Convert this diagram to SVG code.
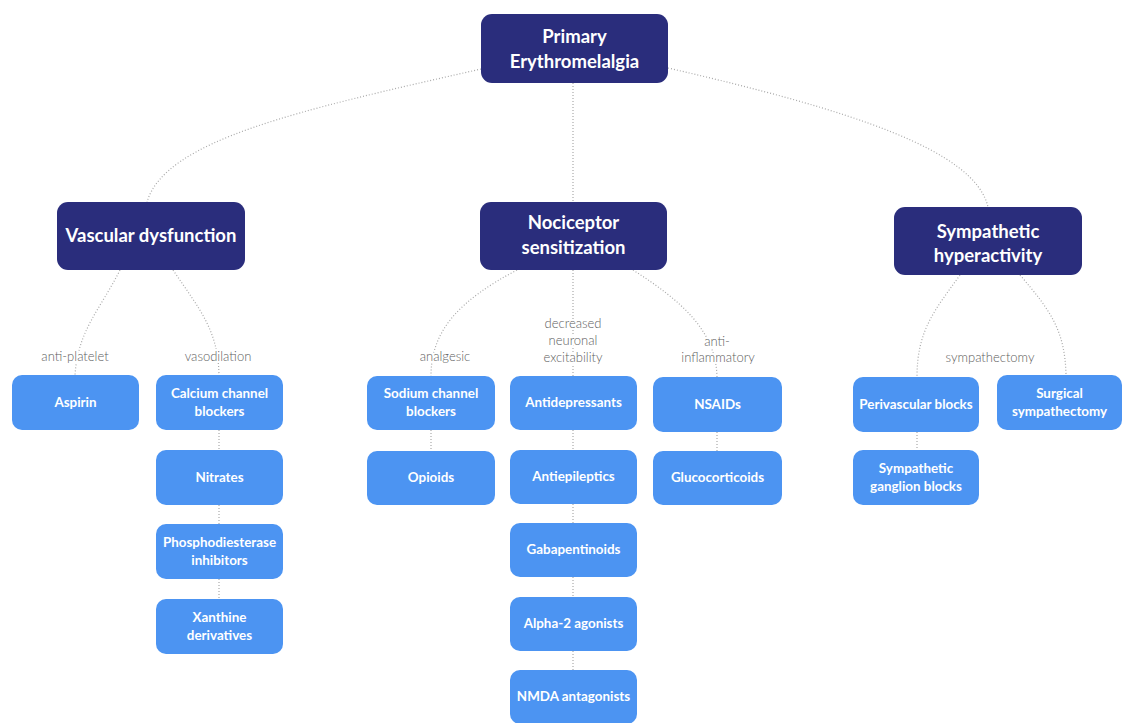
<svg xmlns="http://www.w3.org/2000/svg" width="1123" height="723" viewBox="0 0 1123 723">
<style>
.bg{fill:#ffffff}
.main rect{fill:#2a2d7c}
.main text{fill:#ffffff;font-family:Lato,"Open Sans","Liberation Sans",sans-serif;font-weight:700;font-size:18.5px;text-anchor:middle}
.leaf rect{fill:#4c94f2}
.leaf text{fill:#ffffff;font-family:Lato,"Open Sans","Liberation Sans",sans-serif;font-weight:700;font-size:13.4px;text-anchor:middle}
.conn path{fill:none;stroke:#a9a9a9;stroke-width:1.2;stroke-dasharray:1 2}
.lbl{fill:#5e5e5e;font-family:Lato,"Open Sans","Liberation Sans",sans-serif;font-weight:300;font-size:13px;text-anchor:middle;stroke:#ffffff;stroke-width:4;paint-order:stroke}
</style>
<rect class="bg" x="0" y="0" width="1123" height="723"/>
<g id="connectors" class="conn">
<path d="M481,69 C300,110 165,140 147,202"/>
<path d="M573,83 L573,202"/>
<path d="M668,68 C850,110 975,150 988,207"/>
<path d="M120,270 C100,310 78,330 75,375"/>
<path d="M173,270 C200,310 218,330 219,375"/>
<path d="M219,430 L219,450 M219,505 L219,524 M219,579 L219,599"/>
<path d="M517,270 C460,300 431,330 431,376"/>
<path d="M573,270 L573,376"/>
<path d="M633,270 C680,300 716,330 717,377"/>
<path d="M431,430 L431,451"/>
<path d="M573,430 L573,450 M573,504 L573,523 M573,577 L573,597 M573,651 L573,670"/>
<path d="M717,432 L717,451"/>
<path d="M960,275 C935,310 917,330 917,377"/>
<path d="M1020,275 C1050,310 1065,330 1066,375"/>
<path d="M917,432 L917,450"/>
</g>
<g id="labels">
<text class="lbl" x="75" y="361">anti-platelet</text>
<text class="lbl" x="218" y="361">vasodilation</text>
<text class="lbl" x="445" y="361">analgesic</text>
<text class="lbl" x="573" y="328">decreased</text>
<text class="lbl" x="573" y="345">neuronal</text>
<text class="lbl" x="573" y="362">excitability</text>
<text class="lbl" x="717" y="346">anti-</text>
<text class="lbl" x="718" y="362">inflammatory</text>
<text class="lbl" x="990" y="362">sympathectomy</text>
</g>
<g id="root" class="main"><rect x="481" y="14" width="187" height="69" rx="11"/><text x="574.5" y="43">Primary</text><text x="574.5" y="68">Erythromelalgia</text></g>
<g id="vascular" class="main"><rect x="57" y="202" width="188" height="68" rx="11"/><text x="151" y="242">Vascular dysfunction</text></g>
<g id="nociceptor" class="main"><rect x="480" y="202" width="187" height="68" rx="11"/><text x="573.5" y="229">Nociceptor</text><text x="573.5" y="254">sensitization</text></g>
<g id="sympathetic" class="main"><rect x="894" y="207" width="188" height="68" rx="11"/><text x="988" y="238">Sympathetic</text><text x="988" y="262">hyperactivity</text></g>
<g id="aspirin" class="leaf"><rect x="12" y="375" width="127" height="55" rx="10"/><text x="75.5" y="407">Aspirin</text></g>
<g id="ccb" class="leaf"><rect x="156" y="375" width="127" height="55" rx="10"/><text x="219.5" y="398">Calcium channel</text><text x="219.5" y="416">blockers</text></g>
<g id="nitrates" class="leaf"><rect x="156" y="450" width="127" height="55" rx="10"/><text x="219.5" y="482">Nitrates</text></g>
<g id="pde" class="leaf"><rect x="156" y="524" width="127" height="55" rx="10"/><text x="219.5" y="547">Phosphodiesterase</text><text x="219.5" y="565">inhibitors</text></g>
<g id="xanthine" class="leaf"><rect x="156" y="599" width="127" height="55" rx="10"/><text x="219.5" y="622">Xanthine</text><text x="219.5" y="640">derivatives</text></g>
<g id="sodium" class="leaf"><rect x="367" y="376" width="128" height="54" rx="10"/><text x="431" y="398">Sodium channel</text><text x="431" y="416">blockers</text></g>
<g id="opioids" class="leaf"><rect x="367" y="451" width="128" height="54" rx="10"/><text x="431" y="482">Opioids</text></g>
<g id="antidepressants" class="leaf"><rect x="510" y="376" width="127" height="54" rx="10"/><text x="573.5" y="407">Antidepressants</text></g>
<g id="antiepileptics" class="leaf"><rect x="510" y="450" width="127" height="54" rx="10"/><text x="573.5" y="481">Antiepileptics</text></g>
<g id="gabapentinoids" class="leaf"><rect x="510" y="523" width="127" height="54" rx="10"/><text x="573.5" y="554">Gabapentinoids</text></g>
<g id="alpha2" class="leaf"><rect x="510" y="597" width="127" height="54" rx="10"/><text x="573.5" y="628">Alpha-2 agonists</text></g>
<g id="nmda" class="leaf"><rect x="510" y="670" width="127" height="54" rx="10"/><text x="573.5" y="701">NMDA antagonists</text></g>
<g id="nsaids" class="leaf"><rect x="653" y="377" width="129" height="55" rx="10"/><text x="717.5" y="409">NSAIDs</text></g>
<g id="glucocorticoids" class="leaf"><rect x="653" y="451" width="129" height="54" rx="10"/><text x="717.5" y="482">Glucocorticoids</text></g>
<g id="perivascular" class="leaf"><rect x="853" y="377" width="126" height="55" rx="10"/><text x="916" y="409">Perivascular blocks</text></g>
<g id="ganglion" class="leaf"><rect x="853" y="450" width="126" height="55" rx="10"/><text x="916" y="473">Sympathetic</text><text x="916" y="491">ganglion blocks</text></g>
<g id="surgical" class="leaf"><rect x="997" y="375" width="125" height="55" rx="10"/><text x="1059.5" y="398">Surgical</text><text x="1059.5" y="416">sympathectomy</text></g>
</svg>
